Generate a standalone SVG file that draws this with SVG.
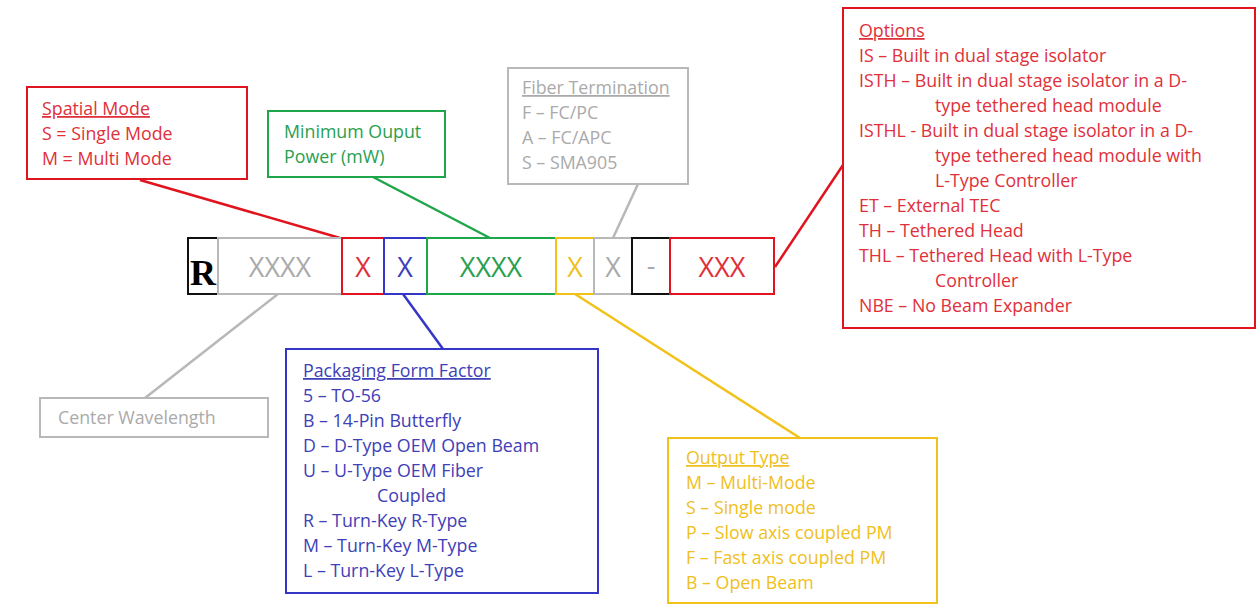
<svg xmlns="http://www.w3.org/2000/svg" width="1259" height="608" viewBox="0 0 1259 608">
<style>
text{font-family:"Open Sans","Liberation Sans",sans-serif;font-size:17.8px}
.box{fill:#fff;stroke-width:2}
.r{stroke:#e0141e}.rt{fill:#e0303a}
.g{stroke:#1fa64a}.gt{fill:#28a050}
.b{stroke:#3535c8}.bt{fill:#4040b8}
.y{stroke:#f2c21a}.yt{fill:#f0c020}
.gy{stroke:#b8b8b8}.gyt{fill:#aaaaaa}
.k{stroke:#111}
.u{text-decoration:underline}
.cell{font-size:27px;text-anchor:middle}
.conn line{stroke-width:2.5}
</style>
<rect width="1259" height="608" fill="#fff"/>
<g class="conn" id="connectors">
<line x1="140" y1="180" x2="340" y2="238" stroke="#e0141e"/>
<line x1="373" y1="177" x2="490" y2="238" stroke="#1fa64a"/>
<line x1="638" y1="184" x2="613" y2="238" stroke="#b8b8b8"/>
<line x1="843" y1="165" x2="775" y2="267" stroke="#e0141e"/>
<line x1="278" y1="294" x2="145" y2="398" stroke="#b8b8b8"/>
<line x1="403" y1="294" x2="443" y2="349" stroke="#3535c8"/>
<line x1="575" y1="294" x2="800" y2="438" stroke="#f2c21a"/>
</g>
<g id="bar">
<rect class="box k" x="188" y="238" width="30" height="56"/>
<text x="203" y="285" style="font-family:'Liberation Serif',serif;font-size:36px;font-weight:bold" text-anchor="middle" fill="#000">R</text>
<rect class="box gy" x="218" y="238" width="124" height="56"/>
<text class="cell gyt" x="280" y="277">XXXX</text>
<rect class="box r" x="342" y="238" width="42" height="56"/>
<text class="cell rt" x="363" y="277">X</text>
<rect class="box b" x="384" y="238" width="43" height="56"/>
<text class="cell bt" x="405" y="277">X</text>
<rect class="box g" x="427" y="238" width="129" height="56"/>
<text class="cell gt" x="491" y="277">XXXX</text>
<rect class="box y" x="556" y="238" width="38" height="56"/>
<text class="cell yt" x="575" y="277">X</text>
<rect class="box gy" x="594" y="238" width="38" height="56"/>
<text class="cell gyt" x="613" y="277">X</text>
<rect class="box k" x="632" y="238" width="38" height="56"/>
<text class="cell gyt" x="651" y="275">-</text>
<rect class="box r" x="670" y="238" width="104" height="56"/>
<text class="cell rt" x="722" y="277">XXX</text>
</g>
<g id="spatial-mode">
<rect class="box r" x="27" y="87" width="220" height="92"/>
<text class="rt" x="42" y="115"><tspan class="u">Spatial Mode</tspan></text>
<text class="rt" x="42" y="140">S = Single Mode</text>
<text class="rt" x="42" y="165">M = Multi Mode</text>
</g>
<g id="min-power">
<rect class="box g" x="268" y="111" width="177" height="66"/>
<text class="gt" x="284" y="138">Minimum Ouput</text>
<text class="gt" x="284" y="163">Power (mW)</text>
</g>
<g id="fiber-termination">
<rect class="box gy" x="508" y="68" width="180" height="116"/>
<text class="gyt u" x="522" y="94">Fiber Termination</text>
<text class="gyt" x="522" y="119">F – FC/PC</text>
<text class="gyt" x="522" y="144">A – FC/APC</text>
<text class="gyt" x="522" y="169">S – SMA905</text>
</g>
<g id="options">
<rect class="box r" x="843" y="8" width="412" height="320"/>
<text class="rt u" x="859" y="37">Options</text>
<text class="rt" x="859" y="62">IS – Built in dual stage isolator</text>
<text class="rt" x="859" y="87">ISTH – Built in dual stage isolator in a D-</text>
<text class="rt" x="935" y="112">type tethered  head module</text>
<text class="rt" x="859" y="137">ISTHL - Built in dual stage isolator in a D-</text>
<text class="rt" x="935" y="162">type tethered  head module with</text>
<text class="rt" x="935" y="187">L-Type Controller</text>
<text class="rt" x="859" y="212">ET – External TEC</text>
<text class="rt" x="859" y="237">TH – Tethered Head</text>
<text class="rt" x="859" y="262">THL – Tethered Head with L-Type</text>
<text class="rt" x="935" y="287">Controller</text>
<text class="rt" x="859" y="312">NBE – No Beam Expander</text>
</g>
<g id="center-wavelength">
<rect class="box gy" x="40" y="398" width="228" height="39"/>
<text class="gyt" x="58" y="424">Center Wavelength</text>
</g>
<g id="packaging">
<rect class="box b" x="286" y="349" width="312" height="244"/>
<text class="bt u" x="303" y="377">Packaging Form Factor</text>
<text class="bt" x="303" y="402">5 – TO-56</text>
<text class="bt" x="303" y="427">B – 14-Pin Butterfly</text>
<text class="bt" x="303" y="452">D – D-Type OEM Open Beam</text>
<text class="bt" x="303" y="477">U – U-Type OEM Fiber</text>
<text class="bt" x="377" y="502">Coupled</text>
<text class="bt" x="303" y="527">R – Turn-Key R-Type</text>
<text class="bt" x="303" y="552">M – Turn-Key M-Type</text>
<text class="bt" x="303" y="577">L – Turn-Key L-Type</text>
</g>
<g id="output-type">
<rect class="box y" x="668" y="438" width="269" height="165"/>
<text class="yt u" x="686" y="464">Output Type</text>
<text class="yt" x="686" y="489">M – Multi-Mode</text>
<text class="yt" x="686" y="514">S – Single mode</text>
<text class="yt" x="686" y="539">P – Slow axis coupled PM</text>
<text class="yt" x="686" y="564">F – Fast axis coupled PM</text>
<text class="yt" x="686" y="589">B – Open Beam</text>
</g>
</svg>
